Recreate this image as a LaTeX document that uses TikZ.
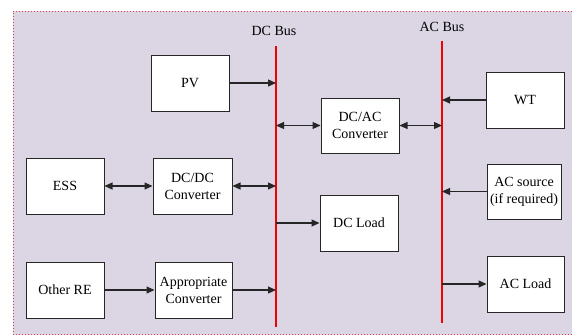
\documentclass[tikz,border=0pt]{standalone}
\usepackage{fontspec}
\setmainfont{Liberation Serif}
\usetikzlibrary{arrows.meta}
\definecolor{bgl}{RGB}{220,214,228}
\definecolor{busred}{RGB}{240,0,0}
\definecolor{brd}{RGB}{215,60,70}
\tikzset{
  blk/.style={draw=black!85, line width=1pt, fill=white, inner sep=0pt, align=center,
    font=\fontsize{14}{17}\selectfont},
  conn/.style={line width=1.1pt, black!85, -{Triangle[length=8pt,width=7pt]}},
  dconn/.style={line width=1.1pt, black!85, {Triangle[length=8pt,width=7pt]}-{Triangle[length=8pt,width=7pt]}},
  bus/.style={draw=busred, line width=1.8pt},
  lbl/.style={font=\fontsize{14}{17}\selectfont, inner sep=0pt}
}
\begin{document}
\begin{tikzpicture}[x=1pt,y=-1pt]
\useasboundingbox (0,0) rectangle (572,335);
\fill[bgl] (13,11) rectangle (572,335);
\draw[brd, line width=1pt, dotted] (572,11) -- (13,11) -- (13,334) -- (572,334);
% buses
\coordinate (dctop) at (276,46);
\coordinate (dcbot) at (276,327);
\coordinate (actop) at (442,41);
\coordinate (acbot) at (442,323);
\draw[bus] (dctop) -- (dcbot);
\draw[bus] (actop) -- (acbot);
\node[lbl] (dclbl) at (274,31) {DC Bus};
\node[lbl] (aclbl) at (442,27) {AC Bus};
% boxes
\node[blk, minimum width=78pt, minimum height=56pt] (pv) at (190,83) {PV};
\node[blk, minimum width=78pt, minimum height=56pt] (ess) at (65,186) {ESS};
\node[blk, minimum width=79pt, minimum height=56pt] (dcdc) at (192.5,186) {DC/DC\\Converter};
\node[blk, minimum width=78pt, minimum height=56pt] (ore) at (65,290) {Other RE};
\node[blk, minimum width=77pt, minimum height=56pt] (appc) at (193.5,290) {Appropriate\\Converter};
\node[blk, minimum width=78pt, minimum height=55pt] (dcac) at (360,125.5) {DC/AC\\Converter};
\node[blk, minimum width=78pt, minimum height=56pt] (dcload) at (359,223) {DC Load};
\node[blk, minimum width=78pt, minimum height=56pt] (wt) at (525,100) {WT};
\node[blk, minimum width=74pt, minimum height=55pt] (acsrc) at (524,191.5) {AC source\\(if required)};
\node[blk, minimum width=77pt, minimum height=56pt] (acload) at (525.5,284) {AC Load};
% connectors
\draw[conn] (pv.east) -- (pv.east -| dctop);
\draw[dconn] (ess.east) -- (dcdc.west);
\draw[dconn] (dcdc.east) -- (dcdc.east -| dctop);
\draw[conn] (ore.east) -- (appc.west);
\draw[conn] (appc.east) -- (appc.east -| dctop);
\draw[dconn] (dcac.west -| dctop) -- (dcac.west);
\draw[dconn] (dcac.east) -- (dcac.east -| actop);
\draw[conn] (dcload.west -| dctop) -- (dcload.west);
\draw[conn] (wt.west) -- (wt.west -| actop);
\draw[conn] (acsrc.west) -- (acsrc.west -| actop);
\draw[conn] (acload.west -| actop) -- (acload.west);
\end{tikzpicture}
\end{document}
